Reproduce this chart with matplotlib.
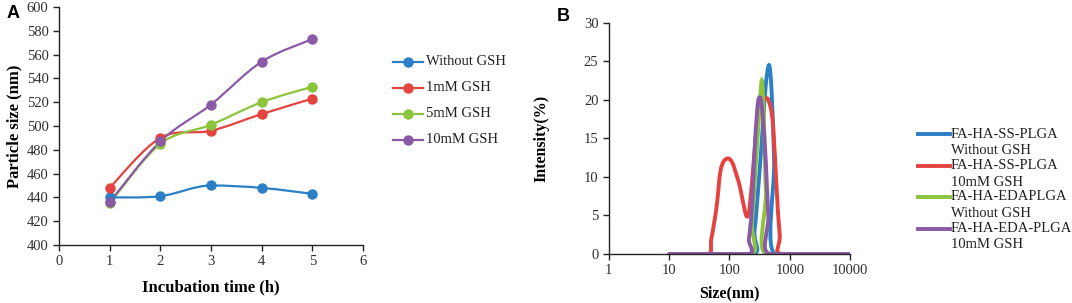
import numpy as np
import matplotlib
matplotlib.use("Agg")
import matplotlib.pyplot as plt
from matplotlib.path import Path
from matplotlib.patches import PathPatch
from matplotlib.lines import Line2D

# Panel A: particle size vs incubation time
time_h = [1, 2, 3, 4, 5]
size_without = [440, 441, 450, 448, 443]
size_1mm = [448, 490, 496, 510, 523]
size_5mm = [435, 485, 501, 520, 533]
size_10mm = [436, 487, 518, 554, 573]
labels_a = ["Without GSH", "1mM GSH", "5mM GSH", "10mM GSH"]

# Panel B: DLS intensity distributions (size nm, intensity %)
ss_without_x = [10, 220, 260, 310, 360, 400, 452, 500, 550, 600, 10000]
ss_without_y = [0, 0, 3, 10, 17, 22, 24.5, 21, 12, 0, 0]
ss_10mm_x = [10, 42, 50, 61, 70, 80, 95, 112, 130, 149, 181, 198, 215, 240,
             280, 330, 380, 420, 480, 530, 600, 680, 780, 10000]
ss_10mm_y = [0, 0, 2, 6.1, 10.5, 12, 12.4, 11.8, 10.3, 8.7, 5.5, 4.85, 6, 10,
             16, 19.5, 20.1, 20.2, 19, 16.5, 9, 2.5, 0, 0]
eda_without_x = [10, 205, 235, 270, 310, 343, 370, 400, 440, 10000]
eda_without_y = [0, 0, 4, 11, 18, 22.5, 18, 8, 0, 0]
eda_10mm_x = [10, 185, 210, 235, 265, 295, 322, 355, 400, 440, 500, 10000]
eda_10mm_y = [0, 0, 2, 6, 14.5, 19.5, 20.3, 18, 12, 5, 0, 0]
labels_b = [("FA-HA-SS-PLGA", "Without GSH"), ("FA-HA-SS-PLGA", "10mM GSH"),
            ("FA-HA-EDAPLGA", "Without GSH"), ("FA-HA-EDA-PLGA", "10mM GSH")]

colors = ["#2b7fc6", "#e5433f", "#8cc43c", "#8a5aa6"]
serif = "Liberation Serif"


def smooth_path(xs, ys, logx=False):
    # cubic bezier through the points, Excel-like smoothed line
    x = np.log10(xs) if logx else np.asarray(xs, float)
    pts = np.column_stack([x, np.asarray(ys, float)])
    n = len(pts)
    tang = []
    for i in range(n):
        t = (pts[min(i + 1, n - 1)] - pts[max(i - 1, 0)]) / 6.0
        if 0 < i < n - 1:
            a, b, c = pts[i - 1, 1], pts[i, 1], pts[i + 1, 1]
            if (b <= a and b <= c) or (b >= a and b >= c):
                t[1] = 0
        tang.append(t)
    verts = [pts[0]]
    codes = [Path.MOVETO]
    for i in range(n - 1):
        verts += [pts[i] + tang[i], pts[i + 1] - tang[i + 1], pts[i + 1]]
        codes += [Path.CURVE4] * 3
    verts = np.array(verts)
    if logx:
        verts[:, 0] = 10 ** verts[:, 0]
    return Path(verts, codes)


def style_axes(ax):
    for s in ["top", "right"]:
        ax.spines[s].set_visible(False)
    for s in ["left", "bottom"]:
        ax.spines[s].set_color("#222222")
        ax.spines[s].set_linewidth(1.0)
    ax.tick_params(direction="out", length=4, width=1, color="#222222",
                   labelsize=10.5, labelcolor="#303030")
    for lab in ax.get_xticklabels() + ax.get_yticklabels():
        lab.set_fontfamily(serif)


fig = plt.figure(figsize=(10.72, 3.03), dpi=100)

# ---- Panel A
ax1 = fig.add_axes([0.055, 0.1914, 0.2836, 0.7856])
for ys, c in zip([size_without, size_1mm, size_5mm, size_10mm], colors):
    ax1.add_patch(PathPatch(smooth_path(time_h, ys), fill=False, edgecolor=c,
                            lw=1.6, zorder=2))
    ax1.plot(time_h, ys, "o", color=c, ms=6.5, zorder=3)
ax1.set_xlim(0, 6)
ax1.set_ylim(400, 600)
ax1.set_xticks(range(0, 7))
ax1.set_yticks(range(400, 601, 20))
style_axes(ax1)
ax1.set_xlabel("Incubation time (h)", fontfamily=serif, fontweight="bold", fontsize=12)
ax1.set_ylabel("Particle size (nm)", fontfamily=serif, fontweight="bold", fontsize=12)
ax1.xaxis.label.set_va("center")
ax1.yaxis.label.set_va("center")
ax1.xaxis.set_label_coords(0.5, -0.176)
ax1.yaxis.set_label_coords(-0.148, 0.5)

# legend A
for i, (lab, c) in enumerate(zip(labels_a, colors)):
    y = 1 - (61.7 + 26 * i) / 303
    fig.add_artist(Line2D([393 / 1072, 423 / 1072], [y, y], color=c, lw=1.6))
    fig.add_artist(Line2D([408 / 1072], [y], marker="o", color=c, ms=6.5))
    fig.text(426 / 1072, y, lab, fontfamily=serif, fontsize=10.5, va="center",
             color="#222222")

# ---- Panel B
ax2 = fig.add_axes([0.568, 0.1617, 0.225, 0.7633])
series_b = [(ss_without_x, ss_without_y), (ss_10mm_x, ss_10mm_y),
            (eda_without_x, eda_without_y), (eda_10mm_x, eda_10mm_y)]
ax2.set_xscale("log")
for (xs, ys), c in zip(series_b, colors):
    ax2.add_patch(PathPatch(smooth_path(xs, ys, logx=True), fill=False,
                            edgecolor=c, lw=2.8, zorder=2, capstyle="round"))
ax2.set_xlim(1, 10000)
ax2.set_ylim(0, 30)
ax2.set_xticks([1, 10, 100, 1000, 10000])
ax2.set_xticklabels(["1", "10", "100", "1000", "10000"])
ax2.xaxis.set_minor_locator(matplotlib.ticker.NullLocator())
ax2.set_yticks(range(0, 31, 5))
style_axes(ax2)
ax2.set_xlabel("Size(nm)", fontfamily=serif, fontweight="bold", fontsize=11.5)
ax2.set_ylabel("Intensity(%)", fontfamily=serif, fontweight="bold", fontsize=11.5)
ax2.xaxis.label.set_va("center")
ax2.yaxis.label.set_va("center")
ax2.xaxis.set_label_coords(0.5, -0.169)
ax2.yaxis.set_label_coords(-0.279, 0.5)

# legend B
for i, ((l1, l2), c) in enumerate(zip(labels_b, colors)):
    y = 1 - (134 + 31.5 * i) / 303
    fig.add_artist(Line2D([918 / 1072, 950 / 1072], [y, y], color=c, lw=2.8))
    fig.text(951 / 1072, y, l1, fontfamily=serif, fontsize=10.5,
             va="center", color="#222222")
    fig.text(951 / 1072, y - 16.5 / 303, l2, fontfamily=serif, fontsize=10.5,
             va="center", color="#222222")

fig.text(0.006, 0.985, "A", fontfamily="Liberation Sans", fontweight="bold",
         fontsize=13, va="top")
fig.text(0.519, 0.975, "B", fontfamily="Liberation Sans", fontweight="bold",
         fontsize=13, va="top")

fig.savefig("out.png", dpi=100)
